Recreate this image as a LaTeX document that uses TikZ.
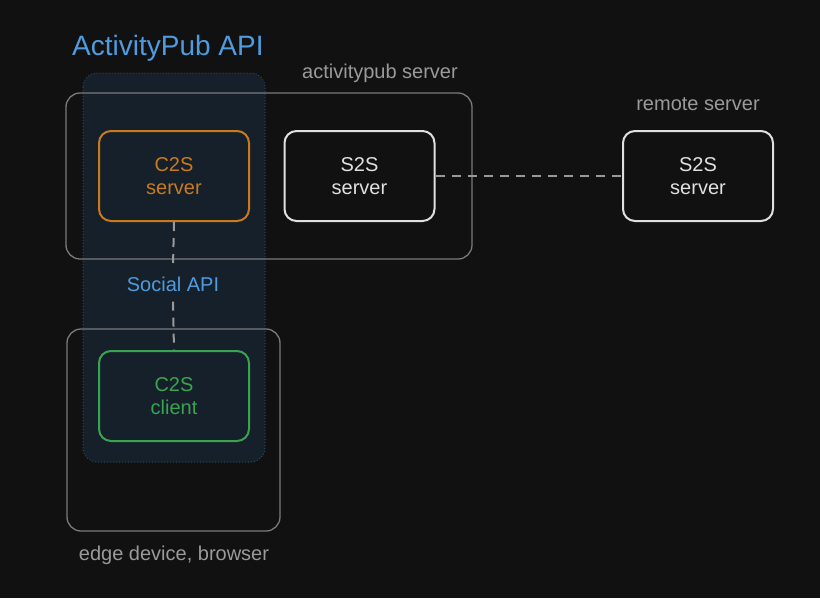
\documentclass[tikz,border=0pt]{standalone}
\usepackage{fontspec}
\setmainfont{Liberation Sans}
\definecolor{bg}{HTML}{111111}
\definecolor{apiblue}{HTML}{4F9BE0}
\definecolor{apifill}{HTML}{15202B}
\definecolor{grayline}{HTML}{7A7A7A}
\definecolor{graytext}{HTML}{9A9A9A}
\definecolor{orng}{HTML}{C97A1E}
\definecolor{grn}{HTML}{3AA351}
\definecolor{wht}{HTML}{E0E0E0}
\begin{document}
\begin{tikzpicture}[x=1pt,y=-1pt,
  lbl/.style={font=\fontsize{20}{23}\selectfont},
  grp/.style={draw=grayline,line width=1.3pt,rounded corners=14pt},
  comp/.style={line width=2pt,rounded corners=12pt,minimum width=150pt,minimum height=90pt,align=center,font=\fontsize{20}{23}\selectfont,text width=140pt},
  conn/.style={draw=graytext,line width=2pt,dash pattern=on 9pt off 7pt}]
\fill[bg] (0,0) rectangle (820,598);
\useasboundingbox (0,0) rectangle (820,598);
\fill[apifill,rounded corners=14pt] (83,73) rectangle (265,462);
\draw[apiblue!40!bg,line width=1pt,dotted,rounded corners=14pt] (83,73) rectangle (265,462);
\node[text=apiblue,anchor=west,inner sep=0pt,font=\fontsize{28}{32}\selectfont] (title) at (72,48) {ActivityPub API};
\draw[grp] (66,93) rectangle (472,259);
\node[lbl,text=graytext] (aslbl) at (380,73) {activitypub server};
\draw[grp] (67,329) rectangle (280,531);
\node[lbl,text=graytext] (edlbl) at (174,555) {edge device, browser};
\node[lbl,text=graytext] (rslbl) at (698,104) {remote server};
\node[comp,draw=orng,text=orng] (c2ss) at (174,176) {C2S\\server};
\node[comp,draw=wht,text=wht] (s2s) at (359.5,176) {S2S\\server};
\node[comp,draw=wht,text=wht] (rs2s) at (698,176) {S2S\\server};
\node[comp,draw=grn,text=grn] (c2sc) at (174,396) {C2S\\client};
\node[lbl,text=apiblue,inner sep=10pt] (social) at (173,284) {Social API};
\draw[conn] (s2s.east) -- (rs2s.west);
\draw[conn] (c2ss.south) -- (social.north);
\draw[conn] (social.south) -- (c2sc.north);
\end{tikzpicture}
\end{document}
